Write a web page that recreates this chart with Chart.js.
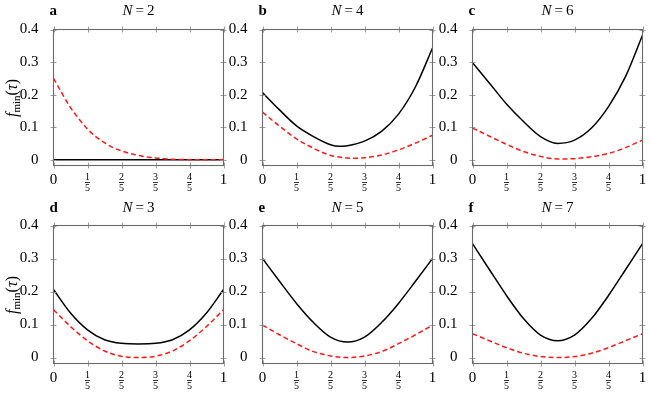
<!DOCTYPE html>
<html>
<head>
<meta charset="utf-8">
<script src="https://cdn.jsdelivr.net/npm/chart.js@4.4.1/dist/chart.umd.min.js"></script>
<style>
    html, body { margin: 0; padding: 0; background: #fff; }
    #wrap { position: relative; width: 651px; height: 393px; overflow: hidden; font-family: "Liberation Serif", serif; color: #000; }
    #wrap canvas { position: absolute; left: 0; top: 0; }
    .letter { position: absolute; font-size: 15px; line-height: 15px; font-weight: bold; white-space: nowrap; }
    .title { position: absolute; font-size: 15px; line-height: 15px; width: 120px; text-align: center; white-space: nowrap; }
    .ylab { position: absolute; width: 80px; height: 18px; line-height: 18px; font-size: 16px; text-align: center; transform: rotate(-90deg); white-space: nowrap; }
    .ylab sub { font-size: 11px; vertical-align: -3px; line-height: 0; }
</style>
</head>
<body>
<div id="wrap"></div>
<script>
// Data
const tau = [0, 0.1, 0.2, 0.3, 0.4, 0.5, 0.6, 0.7, 0.8, 0.9, 1];
const tauFine = [0, 0.05, 0.1, 0.15, 0.2, 0.25, 0.3, 0.35, 0.4, 0.45, 0.5, 0.55, 0.6, 0.65, 0.7, 0.75, 0.8, 0.85, 0.9, 0.95, 1];
const tauSolidB = [0, 0.1, 0.2, 0.3, 0.4, 0.45, 0.5, 0.6, 0.7, 0.8, 0.9, 1];
const tauDashedB = [0, 0.1, 0.2, 0.3, 0.4, 0.5, 0.55, 0.6, 0.7, 0.8, 0.9, 1];

const xTicks = [0, 0.2, 0.4, 0.6, 0.8, 1];
const xTickLabels = ['0', '1/5', '2/5', '3/5', '4/5', '1'];
const yTicks = [0, 0.1, 0.2, 0.3, 0.4];
const yTickLabels = ['0', '0.1', '0.2', '0.3', '0.4'];

const panelLetters = ['a', 'b', 'c', 'd', 'e', 'f'];
const panelN = [2, 4, 6, 3, 5, 7];

// solid black curves
const solidA = [0, 0, 0, 0, 0, 0, 0, 0, 0, 0, 0];
const solidB = [0.206, 0.153, 0.104, 0.071, 0.046, 0.041, 0.043, 0.057, 0.087, 0.14, 0.224, 0.343];
const solidC = [0.298, 0.235, 0.171, 0.117, 0.071, 0.05, 0.06, 0.097, 0.163, 0.255, 0.382];
const solidD = [0.206, 0.135, 0.084, 0.054, 0.043, 0.041, 0.043, 0.054, 0.084, 0.135, 0.206];
const solidE = [0.3, 0.231, 0.164, 0.106, 0.062, 0.047, 0.062, 0.106, 0.164, 0.231, 0.3];
const solidF = [0.345, 0.266, 0.188, 0.118, 0.068, 0.051, 0.068, 0.118, 0.188, 0.266, 0.345];

// dashed red curves (panel a on the finer grid)
const dashedA = [0.25, 0.204, 0.16, 0.125, 0.094, 0.07, 0.052, 0.037, 0.027, 0.019, 0.013, 0.008, 0.005, 0.003, 0.001, 0.0005, 0, 0, 0, 0, 0];
const dashedB = [0.146, 0.103, 0.064, 0.035, 0.013, 0.005, 0.004, 0.006, 0.014, 0.03, 0.051, 0.075];
const dashedC = [0.097, 0.072, 0.047, 0.025, 0.01, 0.002, 0.003, 0.009, 0.019, 0.037, 0.06];
const dashedD = [0.145, 0.094, 0.051, 0.02, 0.004, 0, 0.004, 0.02, 0.051, 0.094, 0.145];
const dashedE = [0.098, 0.069, 0.042, 0.018, 0.005, 0, 0.005, 0.018, 0.042, 0.069, 0.098];
const dashedF = [0.072, 0.051, 0.03, 0.013, 0.003, 0, 0.003, 0.013, 0.03, 0.051, 0.072];

// Layout
const W = 651, H = 393;
const Y_AXIS_W = 45;
const cols = [[53.5, 223.5], [262.5, 432.5], [472.5, 642.5]];
const rows = [[29.5, 165.5], [225.5, 363.5]];
const FONT = '"Liberation Serif", serif';

Chart.defaults.color = '#000';
Chart.defaults.font.family = FONT;

const panels = [
    { solid: solidA, solidX: tau, dashed: dashedA, dashedX: tauFine, col: 0, row: 0 },
    { solid: solidB, solidX: tauSolidB, dashed: dashedB, dashedX: tauDashedB, col: 1, row: 0 },
    { solid: solidC, solidX: tau, dashed: dashedC, dashedX: tau, col: 2, row: 0 },
    { solid: solidD, solidX: tau, dashed: dashedD, dashedX: tau, col: 0, row: 1 },
    { solid: solidE, solidX: tau, dashed: dashedE, dashedX: tau, col: 1, row: 1 },
    { solid: solidF, solidX: tau, dashed: dashedF, dashedX: tau, col: 2, row: 1 }
];

// frame, tick marks across the frame, and fraction tick labels
const framePlugin = {
    id: 'frame',
    afterDraw(chart) {
        const ctx = chart.ctx;
        const a = chart.chartArea;
        const xs = chart.scales.x, ys = chart.scales.y;
        ctx.save();
        ctx.strokeStyle = '#a0a0a0';
        ctx.lineWidth = 1;
        ctx.beginPath();
        xTicks.forEach(v => {
            const px = Math.round(xs.getPixelForValue(v)) + 0.5;
            ctx.moveTo(px, a.top - 3); ctx.lineTo(px, a.top + 3);
            ctx.moveTo(px, a.bottom - 3); ctx.lineTo(px, a.bottom + 3);
        });
        yTicks.forEach(v => {
            const py = Math.round(ys.getPixelForValue(v)) + 0.5;
            ctx.moveTo(a.left - 3, py); ctx.lineTo(a.left + 3, py);
            ctx.moveTo(a.right - 3, py); ctx.lineTo(a.right + 3, py);
        });
        ctx.stroke();

        ctx.strokeStyle = '#6a6a6a';
        ctx.lineWidth = 1.1;
        ctx.strokeRect(a.left, a.top, a.right - a.left, a.bottom - a.top);

        // x tick labels
        ctx.fillStyle = '#000';
        ctx.textAlign = 'center';
        ctx.textBaseline = 'middle';
        xTicks.forEach((v, i) => {
            const px = xs.getPixelForValue(v);
            const lab = xTickLabels[i];
            if (lab.indexOf('/') >= 0) {
                const parts = lab.split('/');
                ctx.font = '10px ' + FONT;
                ctx.fillText(parts[0], px, a.bottom + 11.5);
                ctx.fillText(parts[1], px, a.bottom + 22.5);
                ctx.fillRect(px - 2.5, a.bottom + 16.6, 5, 0.8);
            } else {
                ctx.font = '15px ' + FONT;
                ctx.fillText(lab, px, a.bottom + 15);
            }
        });
        ctx.restore();
    }
};

const wrap = document.getElementById('wrap');

panels.forEach((p, k) => {
    const [left, right] = cols[p.col];
    const [top, bottom] = rows[p.row];

    const canvas = document.createElement('canvas');
    canvas.width = W;
    canvas.height = H;
    wrap.appendChild(canvas);

    new Chart(canvas.getContext('2d'), {
        type: 'line',
        data: {
            datasets: [
                {
                    data: p.dashedX.map((t, i) => ({ x: t, y: p.dashed[i] })),
                    borderColor: '#ff1a1a',
                    borderWidth: 1.5,
                    borderDash: [5, 3],
                    pointRadius: 0,
                    cubicInterpolationMode: 'monotone',
                    fill: false
                },
                {
                    data: p.solidX.map((t, i) => ({ x: t, y: p.solid[i] })),
                    borderColor: '#000',
                    borderWidth: 1.5,
                    pointRadius: 0,
                    cubicInterpolationMode: 'monotone',
                    fill: false
                }
            ]
        },
        options: {
            responsive: false,
            animation: false,
            devicePixelRatio: 1,
            events: [],
            layout: {
                padding: { left: left - Y_AXIS_W, top: top, right: W - right, bottom: H - bottom }
            },
            plugins: { legend: { display: false }, tooltip: { enabled: false }, title: { display: false } },
            scales: {
                x: { type: 'linear', min: 0, max: 1, display: false },
                y: {
                    type: 'linear',
                    min: -0.018,
                    max: 0.4,
                    grid: { display: false },
                    border: { display: false },
                    afterBuildTicks: s => { s.ticks = yTicks.map(v => ({ value: v })); },
                    afterFit: s => { s.width = Y_AXIS_W; },
                    ticks: {
                        padding: 7,
                        color: '#000',
                        font: { size: 15, family: FONT },
                        callback: (v, i) => yTickLabels[i]
                    }
                }
            }
        },
        plugins: [framePlugin]
    });

    // panel letter and title
    const baseline = p.row === 0 ? 15.7 : 212.5;
    const letter = document.createElement('div');
    letter.className = 'letter';
    letter.textContent = panelLetters[k];
    letter.style.left = (left - 4) + 'px';
    letter.style.top = (baseline - 12.6) + 'px';
    wrap.appendChild(letter);

    const title = document.createElement('div');
    title.className = 'title';
    title.innerHTML = '<i>N</i>&thinsp;=&thinsp;' + panelN[k];
    title.style.left = ((left + right) / 2 - 60) + 'px';
    title.style.top = (baseline - 12.6) + 'px';
    wrap.appendChild(title);

    if (p.col === 0) {
        const yl = document.createElement('div');
        yl.className = 'ylab';
        yl.innerHTML = '<i>f</i><sub>min</sub>(<i>τ</i>)';
        yl.style.left = (12 - 40) + 'px';
        yl.style.top = ((top + bottom) / 2 - 9) + 'px';
        wrap.appendChild(yl);
    }
});
</script>
</body>
</html>
